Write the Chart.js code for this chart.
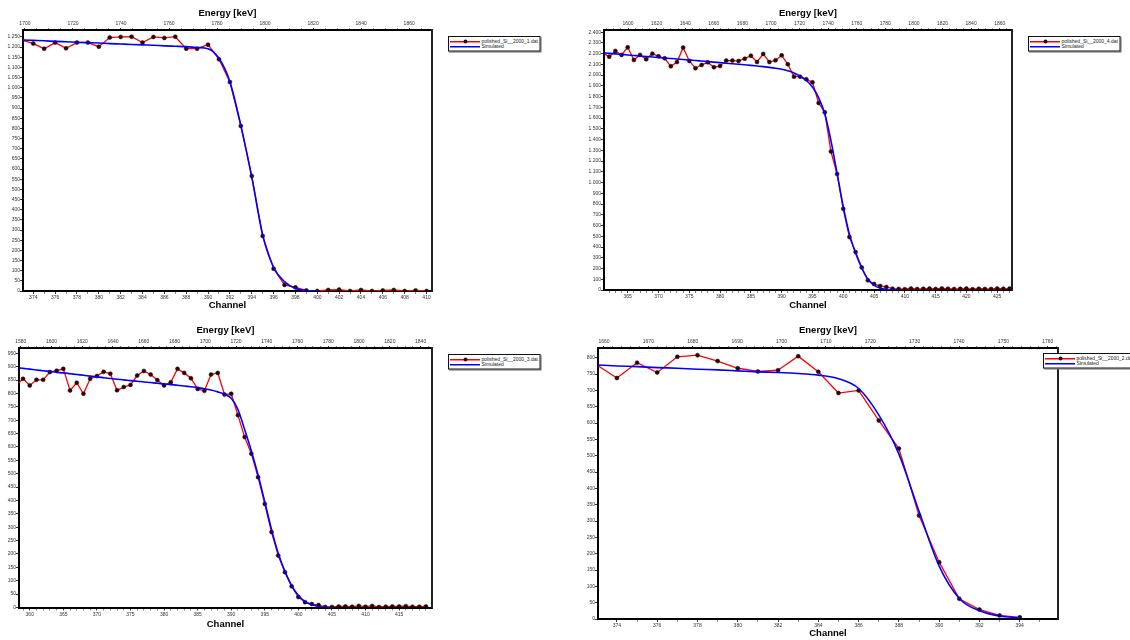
<!DOCTYPE html>
<html>
<head>
<meta charset="utf-8">
<script src="https://cdn.jsdelivr.net/npm/chart.js@4.4.1/dist/chart.umd.min.js"></script>
<style>
  html, body { margin: 0; padding: 0; background: #fff; width: 1130px; height: 640px; overflow: hidden;
               font-family: "Liberation Sans", Arial, sans-serif; }
  canvas { position: absolute; }
  .legend { position: absolute; transform: scale(0.5); transform-origin: 0 0; background: #fff;
            border: 2px solid #111; box-shadow: 2px 2px 0 #666; padding: 4px 3px 3px 2px;
            font-size: 10px; line-height: 10px; color: #222; white-space: nowrap; }
  .legend .row { display: flex; align-items: center; height: 10px; }
  .legend .swatch { position: relative; width: 60px; height: 10px; margin-right: 3px; flex: none; }
  .legend .swatch i { position: absolute; left: 0; right: 0; top: 4px; height: 3px; }
  .legend .swatch b { position: absolute; left: 27px; top: 1px; width: 8px; height: 8px; border-radius: 50%; background: #2a0808; }
</style>
</head>
<body>
<canvas id="p1" width="440" height="316" style="left:0px;top:0px"></canvas>
<canvas id="p2" width="440" height="316" style="left:580px;top:0px"></canvas>
<canvas id="p3" width="440" height="316" style="left:0px;top:318px"></canvas>
<canvas id="p4" width="491" height="322" style="left:575px;top:318px"></canvas>
<script>
// ---- polished_Si__2000_1.dat : counts per channel, starting at channel 373
const first1 = 373;
const measured1 = [1234, 1217, 1192, 1222, 1194, 1222, 1222, 1202, 1247, 1250, 1251, 1222, 1250, 1245,
  1251, 1192, 1192, 1212, 1140, 1028, 812, 566, 271, 110, 30, 18, 3, 0, 5, 7, 0, 5, 0, 3, 5, 0, 3, 0];
const simulated1 = [1235, 1233, 1231, 1228, 1226, 1224, 1222, 1220, 1217, 1215, 1213, 1211, 1209, 1206,
  1204, 1202, 1198, 1192, 1145, 1030, 815, 560, 275, 117, 46, 12, 2, 0];

// ---- polished_Si__2000_4.dat : starting at channel 361
const first4 = 361;
const measured4 = [2203, 2172, 2225, 2188, 2259, 2141, 2188, 2147, 2200, 2175, 2157, 2082, 2122, 2256,
  2132, 2064, 2095, 2119, 2073, 2085, 2135, 2135, 2132, 2153, 2181, 2122, 2197, 2122, 2138, 2184, 2101,
  1986, 1986, 1961, 1933, 1741, 1654, 1289, 1080, 756, 493, 353, 210, 90, 56, 37, 28,
  12, 10, 8, 14, 9, 11, 13, 10, 15, 12, 9, 11, 13, 8, 12, 10, 9, 14, 11, 13];
const simulated4 = [2207, 2202, 2198, 2193, 2188, 2183, 2178, 2174, 2169, 2164, 2159, 2155, 2150, 2145,
  2140, 2136, 2131, 2126, 2121, 2116, 2111, 2106, 2101, 2096, 2091, 2085, 2079, 2072, 2064, 2054, 2040,
  2020, 1990, 1950, 1890, 1790, 1640, 1390, 1085, 775, 520, 345, 205, 100, 45, 16, 5, 1, 0];

// ---- polished_Si__2000_3.dat : starting at channel 358
const first3 = 358;
const measured3 = [830, 855, 830, 851, 851, 880, 885, 892, 811, 840, 799, 855, 865, 881, 874, 812, 824,
  832, 867, 884, 871, 850, 830, 842, 892, 877, 857, 817, 810, 871, 877, 796, 799, 719, 637, 575, 487, 387,
  282, 194, 132, 79, 39, 20, 13, 9, 2, 2, 4, 4, 3, 6, 3, 6, 2, 3, 4, 4, 5, 3, 3, 4];
const simulated3 = [897, 894, 891, 888, 885, 882, 879, 877, 874, 871, 868, 865, 862, 859, 856, 853, 851,
  848, 846, 843, 841, 838, 836, 833, 831, 828, 825, 822, 818, 813, 806, 797, 782, 740, 665, 585, 495, 395,
  292, 203, 135, 82, 45, 22, 10, 4, 1, 0];

// ---- polished_Si__2000_2.dat : starting at channel 373
const first2 = 373;
const measured2 = [778, 738, 785, 755, 803, 808, 790, 768, 758, 762, 805, 757, 692, 700, 608, 522, 317,
  174, 62, 29, 11, 5];
const simulated2 = [778, 775, 773, 770, 768, 765, 763, 760, 757, 755, 752, 747, 736, 706, 625, 505, 330,
  162, 63, 25, 9, 3];

const fileNames = ['polished_Si__2000_1.dat', 'polished_Si__2000_4.dat',
                   'polished_Si__2000_3.dat', 'polished_Si__2000_2.dat'];

const FONT = '"Liberation Sans", Arial, sans-serif';

// German style thousands separator: 1250 -> "1.250"
function fmt(v) {
  return String(Math.round(v)).replace(/\B(?=(\d{3})+(?!\d))/g, '.');
}

function toPoints(first, values) {
  return values.map((v, i) => ({ x: first + i, y: v }));
}

function panel(cfg) {
  const tickFont = { family: FONT, size: 5 };
  const titleFont = { family: FONT, size: 9.5, weight: 'bold' };
  const isMajor = (v, step) => Math.abs(v / step - Math.round(v / step)) < 1e-6;

  const chart = new Chart(document.getElementById(cfg.id), {
    type: 'line',
    data: {
      datasets: [
        {
          label: cfg.name,
          data: toPoints(cfg.first, cfg.measured),
          borderColor: '#ff0000',
          borderWidth: 1.3,
          pointRadius: 2,
          pointBackgroundColor: '#2a0808',
          pointBorderColor: '#1a0000',
          pointBorderWidth: 0.5,
          tension: 0,
          order: 1
        },
        {
          label: 'Simulated',
          data: toPoints(cfg.first, cfg.simulated),
          borderColor: '#0000ff',
          borderWidth: 1.6,
          pointRadius: 0,
          cubicInterpolationMode: 'monotone',
          order: 0
        }
      ]
    },
    options: {
      responsive: false,
      animation: false,
      devicePixelRatio: 1,
      parsing: false,
      layout: { padding: { left: 0, right: cfg.padRight, top: 0, bottom: 0 } },
      plugins: { legend: { display: false }, tooltip: { enabled: false } },
      scales: {
        x: {
          type: 'linear', position: 'bottom', min: cfg.chMin, max: cfg.chMax,
          afterFit: s => { s.height = cfg.botH; s.paddingLeft = 0; s.paddingRight = 0; },
          ticks: {
            stepSize: 1, autoSkip: false, maxRotation: 0, includeBounds: false,
            padding: 1, font: tickFont, color: '#333',
            callback: v => isMajor(v, cfg.chStep) ? String(v) : ''
          },
          grid: {
            drawOnChartArea: false, tickLength: 3, lineWidth: 0.8,
            color: c => (c.tick && isMajor(c.tick.value, cfg.chStep)) ? '#000' : '#666'
          },
          border: { display: true, color: '#000', width: 2 },
          title: { display: true, text: 'Channel', font: titleFont, color: '#000',
                   padding: { top: 0, bottom: cfg.botTitlePad } }
        },
        energy: {
          type: 'linear', position: 'top', min: cfg.eMin, max: cfg.eMax,
          afterFit: s => { s.height = cfg.topH; s.paddingLeft = 0; s.paddingRight = 0; },
          ticks: {
            stepSize: cfg.eMinor, autoSkip: false, maxRotation: 0, includeBounds: false,
            padding: 1, font: tickFont, color: '#333',
            callback: v => isMajor(v, cfg.eStep) ? String(v) : ''
          },
          grid: {
            drawOnChartArea: false, tickLength: 2, lineWidth: 0.8,
            color: c => (c.tick && isMajor(c.tick.value, cfg.eStep)) ? '#000' : '#666'
          },
          border: { display: true, color: '#000', width: 2 },
          title: { display: true, text: 'Energy [keV]', font: titleFont, color: '#000',
                   padding: { top: cfg.topTitlePad, bottom: 0 } }
        },
        y: {
          type: 'linear', position: 'left', min: 0, max: cfg.yMax,
          afterFit: s => { s.width = cfg.yW; s.paddingTop = 0; s.paddingBottom = 0; },
          ticks: {
            stepSize: cfg.yStep, autoSkip: false, includeBounds: false,
            padding: 0, font: tickFont, color: '#333', callback: v => fmt(v)
          },
          grid: { drawOnChartArea: false, tickLength: 3, lineWidth: 0.8, color: '#000' },
          border: { display: true, color: '#000', width: 2 }
        },
        frame: {
          type: 'linear', position: 'right', min: 0, max: cfg.yMax,
          afterFit: s => { s.width = 0; s.paddingTop = 0; s.paddingBottom = 0; },
          ticks: { display: false },
          grid: { display: false },
          border: { display: true, color: '#222', width: 2 }
        }
      }
    }
  });

  // legend box built from the chart's datasets
  const box = document.createElement('div');
  box.className = 'legend';
  box.style.left = cfg.legendX + 'px';
  box.style.top = cfg.legendY + 'px';
  chart.data.datasets.forEach((ds) => {
    const row = document.createElement('div');
    row.className = 'row';
    const sw = document.createElement('span');
    sw.className = 'swatch';
    const line = document.createElement('i');
    line.style.background = ds.borderColor;
    sw.appendChild(line);
    if (ds.pointRadius > 0) sw.appendChild(document.createElement('b'));
    const txt = document.createElement('span');
    txt.textContent = ds.label;
    row.appendChild(sw);
    row.appendChild(txt);
    box.appendChild(row);
  });
  document.body.appendChild(box);
  return chart;
}

panel({ id: 'p1', name: fileNames[0], first: first1, measured: measured1, simulated: simulated1,
  chMin: 373.06, chMax: 410.5, chStep: 2, eMin: 1699.2, eMax: 1869.5, eStep: 20, eMinor: 5,
  yMax: 1284, yStep: 50, yW: 23, topH: 30, botH: 25, padRight: 8, topTitlePad: 7.3, botTitlePad: 4.6,
  legendX: 448, legendY: 35.7 });

panel({ id: 'p2', name: fileNames[1], first: first4, measured: measured4, simulated: simulated4,
  chMin: 361.15, chMax: 427.4, chStep: 5, eMin: 1583.2, eMax: 1868.6, eStep: 20, eMinor: 5,
  yMax: 2420, yStep: 100, yW: 24, topH: 30, botH: 26, padRight: 8, topTitlePad: 7.3, botTitlePad: 4.6,
  legendX: 1028, legendY: 36 });

panel({ id: 'p3', name: fileNames[2], first: first3, measured: measured3, simulated: simulated3,
  chMin: 358.4, chMax: 419.9, chStep: 5, eMin: 1578.9, eMax: 1847.4, eStep: 20, eMinor: 5,
  yMax: 970, yStep: 50, yW: 19, topH: 30, botH: 26.5, padRight: 8, topTitlePad: 7, botTitlePad: 4.3,
  legendX: 448, legendY: 354 });

panel({ id: 'p4', name: fileNames[3], first: first2, measured: measured2, simulated: simulated2,
  chMin: 373.06, chMax: 395.9, chStep: 2, eMin: 1658.65, eMax: 1762.3, eStep: 10, eMinor: 2,
  yMax: 830, yStep: 50, yW: 23, topH: 30, botH: 21, padRight: 8, topTitlePad: 6.3, botTitlePad: 1.3,
  legendX: 1043, legendY: 353 });
</script>
</body>
</html>
